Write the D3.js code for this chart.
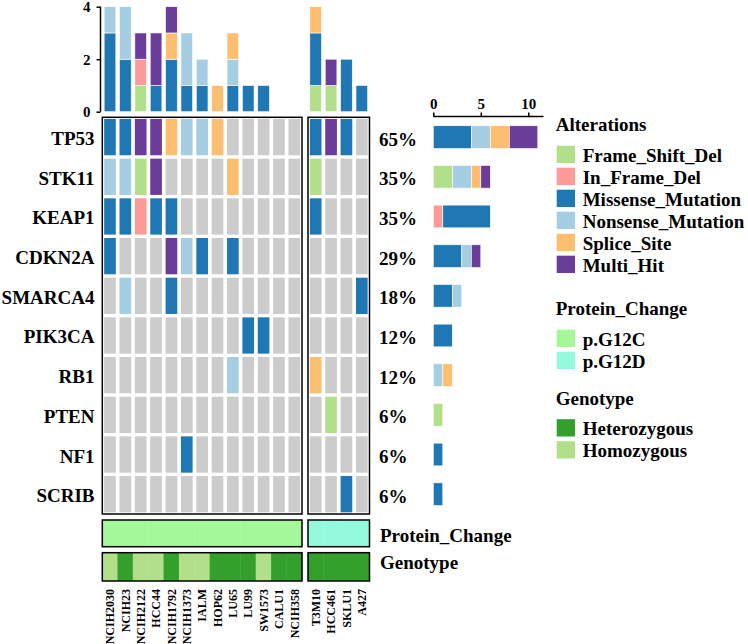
<!DOCTYPE html>
<html><head><meta charset="utf-8">
<script src="https://cdn.jsdelivr.net/npm/d3@7"></script>
<style>body{margin:0;background:#fff}svg{display:block}text{font-family:"Liberation Serif","Times New Roman",serif;font-weight:bold;fill:#000}</style>
</head><body><svg id="c" width="748" height="644"></svg>
<script>
const group1 = ["NCIH2030","NCIH23","NCIH2122","HCC44","NCIH1792","NCIH1373","IALM","HOP62","LU65","LU99","SW1573","CALU1","NCIH358"];
const group2 = ["T3M10","HCC461","SKLU1","A427"];
const samples = group1.concat(group2);
const genes = ["TP53","STK11","KEAP1","CDKN2A","SMARCA4","PIK3CA","RB1","PTEN","NF1","SCRIB"];
const alterTypes = ["Frame_Shift_Del","In_Frame_Del","Missense_Mutation","Nonsense_Mutation","Splice_Site","Multi_Hit"];
const alterCodes = ["FS","IF","MS","NS","SP","MH"];
const alterColors = ["#B2DF8A","#FB9A99","#1F78B4","#A6CEE3","#FDBF6F","#6A3D9A"];
// rows = genes, columns = samples (group1 then group2); "" = no alteration
const matrix = [
  ["MS","MS","MH","MH","SP","NS","NS","SP","","","","","", "MS","MH","MS",""],
  ["NS","NS","FS","MH","","","","","SP","","","","", "FS","","",""],
  ["MS","MS","IF","MS","MS","","","","","","","","", "MS","","",""],
  ["MS","","","","MH","NS","MS","","MS","","","","", "","","",""],
  ["","NS","","","MS","","","","","","","","", "","","","MS"],
  ["","","","","","","","","","MS","MS","","", "","","",""],
  ["","","","","","","","","NS","","","","", "SP","","",""],
  ["","","","","","","","","","","","","", "","FS","",""],
  ["","","","","","MS","","","","","","","", "","","",""],
  ["","","","","","","","","","","","","", "","","MS",""]
];
const proteinChange = ["p.G12C","p.G12C","p.G12C","p.G12C","p.G12C","p.G12C","p.G12C","p.G12C","p.G12C","p.G12C","p.G12C","p.G12C","p.G12C","p.G12D","p.G12D","p.G12D","p.G12D"];
const proteinTypes = ["p.G12C","p.G12D"];
const proteinColors = ["#A4F89A","#95F9DD"];
const genotype = ["Homozygous","Heterozygous","Homozygous","Homozygous","Heterozygous","Homozygous","Homozygous","Heterozygous","Heterozygous","Heterozygous","Homozygous","Heterozygous","Heterozygous","Heterozygous","Heterozygous","Heterozygous","Heterozygous"];
const genoTypes = ["Heterozygous","Homozygous"];
const genoColors = ["#33A02C","#B2DF8A"];
const topTicks = [0,2,4];
const rightTicks = [0,5,10];

const svg = d3.select("#c");
const colAlt = d3.scaleOrdinal(alterCodes, alterColors);
const colProt = d3.scaleOrdinal(proteinTypes, proteinColors);
const colGeno = d3.scaleOrdinal(genoTypes, genoColors);

const G1 = [102.3, 302], G2 = [308, 369.5];
const xg1 = d3.scaleBand(group1, G1).paddingInner(0.24).paddingOuter(0.12);
const xg2 = d3.scaleBand(group2, G2).paddingInner(0.24).paddingOuter(0.12);
const xOf = s => group1.includes(s) ? xg1(s) : xg2(s);
const xsc = s => group1.includes(s) ? xg1 : xg2;
const bw = xg1.bandwidth();
const yRow = d3.scaleBand(genes, [117.3, 514]).paddingInner(0.085).paddingOuter(0.042);

// main grid cells
const cells = [];
genes.forEach((g, gi) => samples.forEach((s, si) => cells.push({g, s, v: matrix[gi][si]})));
svg.append("g").selectAll("rect").data(cells).join("rect")
  .attr("x", d => xOf(d.s)).attr("y", d => yRow(d.g))
  .attr("width", bw).attr("height", yRow.bandwidth())
  .attr("fill", d => d.v ? colAlt(d.v) : "#CCCCCC");

// group boxes
[G1, G2].forEach(r => {
  svg.append("rect").attr("x", r[0]).attr("y", 117.3).attr("width", r[1]-r[0]).attr("height", 514-117.3)
    .attr("fill", "none").attr("stroke", "#000").attr("stroke-width", 1.5);
});

// gene labels
svg.append("g").selectAll("text").data(genes).join("text")
  .attr("x", 94.5).attr("y", d => yRow(d) + yRow.bandwidth()/2 + 8)
  .attr("text-anchor", "end").attr("font-size", 19).text(d => d);

// top barplot
const yTop = d3.scaleLinear([0, 4], [111.7, 6.7]);
const topData = samples.map((s, si) => {
  let acc = 0;
  return alterCodes.map(c => {
    const n = genes.reduce((a, g, gi) => a + (matrix[gi][si] === c ? 1 : 0), 0);
    const seg = {s, c, y0: acc, y1: acc + n}; acc += n; return seg;
  }).filter(d => d.y1 > d.y0);
}).flat();
svg.append("g").selectAll("rect").data(topData).join("rect")
  .attr("x", d => xOf(d.s)).attr("width", bw)
  .attr("y", d => yTop(d.y1)).attr("height", d => yTop(d.y0) - yTop(d.y1))
  .attr("fill", d => colAlt(d.c)).attr("stroke", "#fff").attr("stroke-width", 0.6);
const yAxis = svg.append("g").attr("transform", "translate(100.5,0)")
  .call(d3.axisLeft(yTop).tickValues(topTicks).tickFormat(d3.format("d")).tickSize(4).tickPadding(6));
yAxis.select(".domain").attr("d", `M-0,${yTop(4)}V${yTop(0)}`).attr("stroke-width", 1.5);
yAxis.selectAll(".tick line").attr("stroke-width", 1.5);
yAxis.selectAll("text").attr("font-size", 15).attr("font-family", "Liberation Serif").attr("font-weight", "bold").attr("dy", "0.35em");

// right barplot
const xRight = d3.scaleLinear([0, 11.6], [433.3, 543.5]);
const rightData = genes.map((g, gi) => {
  let acc = 0;
  return alterCodes.map(c => {
    const n = matrix[gi].filter(v => v === c).length;
    const seg = {g, c, x0: acc, x1: acc + n}; acc += n; return seg;
  }).filter(d => d.x1 > d.x0);
}).flat();
const rbh = 22.7;
svg.append("g").selectAll("rect").data(rightData).join("rect")
  .attr("x", d => xRight(d.x0)).attr("width", d => xRight(d.x1) - xRight(d.x0))
  .attr("y", d => yRow(d.g) + yRow.bandwidth()/2 - rbh/2).attr("height", rbh)
  .attr("fill", d => colAlt(d.c)).attr("stroke", "#fff").attr("stroke-width", 0.6);
const xAxis = svg.append("g").attr("transform", "translate(0,116.5)")
  .call(d3.axisTop(xRight).tickValues(rightTicks).tickFormat(d3.format("d")).tickSize(4).tickPadding(4));
xAxis.select(".domain").attr("d", `M${xRight(0)},0H${xRight(11.6)}`).attr("stroke-width", 1.5);
xAxis.selectAll(".tick line").attr("stroke-width", 1.5);
xAxis.selectAll("text").attr("font-size", 15).attr("font-family", "Liberation Serif").attr("font-weight", "bold");

// percent labels
svg.append("g").selectAll("text").data(genes).join("text")
  .attr("x", 379).attr("y", d => yRow(d) + yRow.bandwidth()/2 + 8.5)
  .attr("font-size", 19)
  .text((d, gi) => Math.round(100 * matrix[gi].filter(v => v).length / samples.length) + "%");

// annotation tracks
function track(y0, y1, values, color, label, ly) {
  const g = svg.append("g");
  g.selectAll("rect").data(samples).join("rect")
    .attr("x", s => xOf(s) - xsc(s).step()*0.12 - 0.2)
    .attr("width", s => xsc(s).step() + 0.4)
    .attr("y", y0).attr("height", y1 - y0)
    .attr("fill", (s, i) => color(values[i]));
  [G1, G2].forEach(r => g.append("rect").attr("x", r[0]).attr("y", y0).attr("width", r[1]-r[0]).attr("height", y1-y0)
    .attr("fill", "none").attr("stroke", "#000").attr("stroke-width", 1.5));
  g.append("text").attr("x", 380).attr("y", ly).attr("font-size", 19).text(label);
}
track(520, 546.7, proteinChange, colProt, "Protein_Change", 541.5);
track(552.7, 581, genotype, colGeno, "Genotype", 568.5);

// sample labels
svg.append("g").selectAll("text").data(samples).join("text")
  .attr("transform", s => `translate(${xOf(s) + bw/2},589) rotate(-90)`)
  .attr("text-anchor", "end").attr("dy", "0.35em").attr("font-size", 12).text(s => s);

// legends
function legend(title, ty, names, colors) {
  const g = svg.append("g");
  g.append("text").attr("x", 555.7).attr("y", ty).attr("font-size", 19).text(title);
  names.forEach((n, i) => {
    const top = ty + 14.7 + i * 22;
    g.append("rect").attr("x", 556.7).attr("y", top).attr("width", 18.3).attr("height", 17.3).attr("fill", colors[i]);
    g.append("text").attr("x", 582.7).attr("y", top + 16).attr("font-size", 19).text(n);
  });
}
legend("Alterations", 131, alterTypes, alterColors);
legend("Protein_Change", 315, proteinTypes, proteinColors);
legend("Genotype", 404.5, genoTypes, genoColors);
</script></body></html>
